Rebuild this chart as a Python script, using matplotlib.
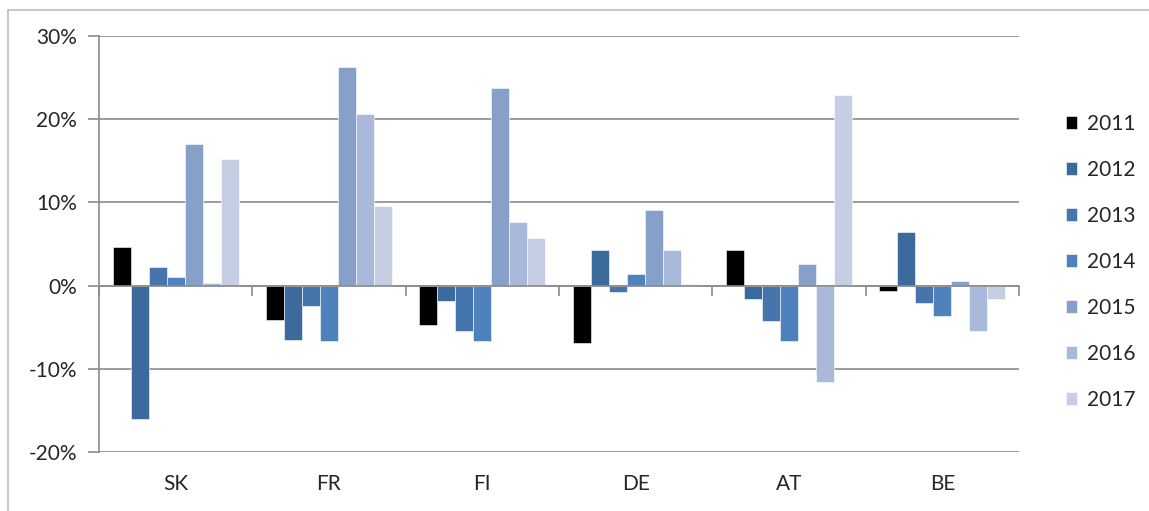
import numpy as np
import matplotlib
matplotlib.use('Agg')
import matplotlib.pyplot as plt
from matplotlib.ticker import PercentFormatter, FixedLocator
from matplotlib.transforms import blended_transform_factory
from matplotlib.lines import Line2D

plt.rcParams['font.family'] = ['Lato', 'DejaVu Sans']
plt.rcParams['axes.unicode_minus'] = False

countries = ['SK', 'FR', 'FI', 'DE', 'AT', 'BE']
years = ['2011', '2012', '2013', '2014', '2015', '2016', '2017']

# growth in % per year, one list per year (order follows countries)
v2011 = [4.6, -4.1, -4.7, -6.9, 4.3, -0.6]
v2012 = [-16.0, -6.5, -1.9, 4.3, -1.6, 6.5]
v2013 = [2.2, -2.5, -5.4, -0.8, -4.3, -2.1]
v2014 = [1.0, -6.7, -6.7, 1.4, -6.7, -3.6]
v2015 = [17.0, 26.3, 23.7, 9.1, 2.6, 0.6]
v2016 = [0.3, 20.6, 7.6, 4.3, -11.6, -5.4]
v2017 = [15.2, 9.6, 5.7, 0.2, 22.9, -1.6]
series = [v2011, v2012, v2013, v2014, v2015, v2016, v2017]

colors = ['#000000', '#3D6A9C', '#4675AE', '#4F81BD', '#86A0C9', '#A9B9D9', '#C5CEE2']
grid_c = '#8C8C8C'
text_c = '#262626'

W, H = 1149, 511
fig = plt.figure(figsize=(W / 100, H / 100), dpi=100)
ax = fig.add_axes([99 / W, (H - 452) / H, (1019 - 99) / W, (452 - 36) / H])

n = len(years)
group = 0.82
w = group / n
x = np.arange(len(countries))
for j, (vals, c) in enumerate(zip(series, colors)):
    ax.bar(x + (j - (n - 1) / 2) * w, vals, width=w, color=c,
           edgecolor='white', linewidth=0.4, label=years[j], zorder=3)

ax.set_xlim(-0.5, len(countries) - 0.5)
ax.set_ylim(-20, 30)
ax.yaxis.set_major_locator(FixedLocator([-20, -10, 0, 10, 20, 30]))
ax.yaxis.set_major_formatter(PercentFormatter(decimals=0))
ax.grid(axis='y', color=grid_c, linewidth=1.2, zorder=0)
ax.set_axisbelow(True)

for s in ['top', 'right']:
    ax.spines[s].set_visible(False)
ax.spines['left'].set_color(grid_c)
ax.spines['left'].set_linewidth(1.2)
ax.spines['bottom'].set_position(('data', 0))
ax.spines['bottom'].set_color(grid_c)
ax.spines['bottom'].set_linewidth(1.2)
ax.spines['bottom'].set_zorder(4)

ax.set_xticks(np.arange(len(countries) + 1) - 0.5)
ax.set_xticklabels([])
ax.tick_params(axis='x', direction='out', length=7, width=1.2, color=grid_c)
ax.tick_params(axis='y', direction='out', length=8, width=1.2, color=grid_c,
               labelsize=15, labelcolor=text_c, pad=8)

trans = blended_transform_factory(ax.transData, ax.transAxes)
for i, c in enumerate(countries):
    ax.text(i, -0.077, c, transform=trans, ha='center', va='center',
            fontsize=15, color=text_c)

handles, labels = ax.get_legend_handles_labels()
leg = fig.legend(handles, labels, loc='center left',
                 bbox_to_anchor=(1047 / W, 1 - 262 / H), frameon=False,
                 fontsize=15, labelspacing=1.25, handlelength=0.55,
                 handleheight=0.55, handletextpad=0.45, labelcolor=text_c)

# chart frame (left and top edges visible)
fig.add_artist(Line2D([8 / W, 8 / W], [0, 1 - 10 / H], color='#BFBFBF', lw=1.2))
fig.add_artist(Line2D([8 / W, 1], [1 - 10 / H, 1 - 10 / H], color='#BFBFBF', lw=1.2))

fig.savefig('out.png', dpi=100)
